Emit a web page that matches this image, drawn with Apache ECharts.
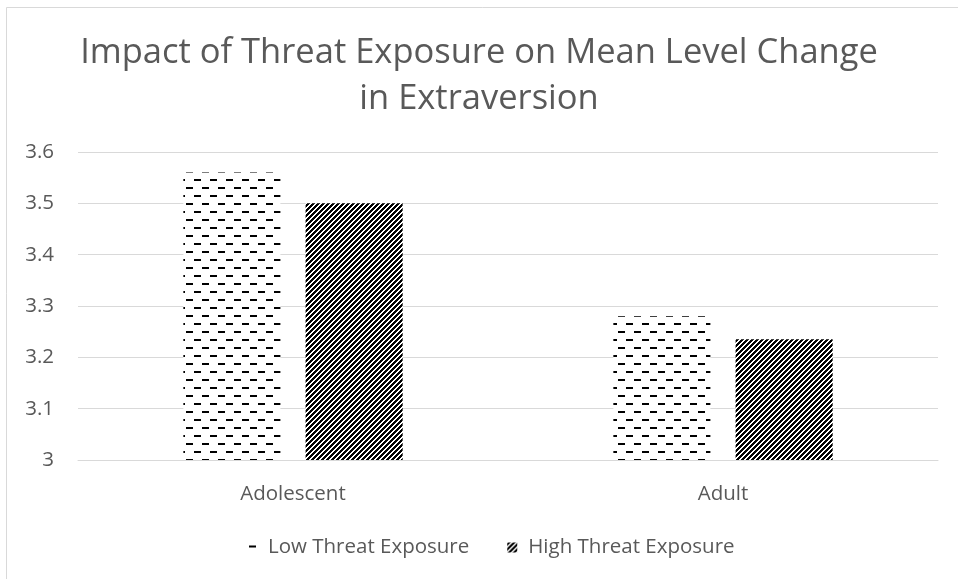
<!DOCTYPE html>
<html>
<head>
<meta charset="utf-8">
<script src="https://cdn.jsdelivr.net/npm/echarts@6/dist/echarts.min.js"></script>
<style>
  html, body { margin: 0; padding: 0; background: #fff; }
  #chart { width: 958px; height: 579px; }
</style>
</head>
<body>
<div id="chart"></div>
<script>
// Chart data
const categories = ['Adolescent', 'Adult'];
const seriesNames = ['Low Threat Exposure', 'High Threat Exposure'];
const lowThreat = [3.56, 3.28];
const highThreat = [3.50, 3.235];
const yTicks = [3, 3.1, 3.2, 3.3, 3.4, 3.5, 3.6];
const titleLines = ['Impact of Threat Exposure on Mean Level Change', 'in Extraversion'];

// Dashed horizontal fill: staggered short dashes
function dashTile() {
  const c = document.createElement('canvas');
  c.width = 16; c.height = 16;
  const g = c.getContext('2d');
  g.fillStyle = '#fff';
  g.fillRect(0, 0, 16, 16);
  g.fillStyle = '#000';
  g.fillRect(2, 3, 7, 2);
  g.fillRect(10, 11, 7, 2);
  g.fillRect(-6, 11, 7, 2);
  return c;
}

// Wide upward diagonal fill
function diagTile() {
  const n = 5;
  const c = document.createElement('canvas');
  c.width = n; c.height = n;
  const g = c.getContext('2d');
  g.fillStyle = '#fff';
  g.fillRect(0, 0, n, n);
  g.fillStyle = '#000';
  for (let y = 0; y < n; y++) {
    for (let x = 0; x < n; x++) {
      if ((x + y) % n < 3) g.fillRect(x, y, 1, 1);
    }
  }
  return c;
}

const lowFill = { image: dashTile(), repeat: 'repeat' };
const highFill = { image: diagTile(), repeat: 'repeat' };

const chart = echarts.init(document.getElementById('chart'));
const font = '"Open Sans", sans-serif';
const textColor = '#595959';
const labelSize = 20.5;

const titleStyle = { fontFamily: font, fontSize: 34.5, fontWeight: 'normal', color: textColor };

chart.setOption({
  animation: false,
  backgroundColor: '#fff',
  graphic: [{
    type: 'rect',
    shape: { x: 6.5, y: 7.5, width: 1000, height: 1000 },
    style: { fill: 'none', stroke: '#d9d9d9', lineWidth: 1 },
    silent: true
  }],
  title: [
    { text: titleLines[0], left: 'center', top: 31, textStyle: titleStyle },
    { text: titleLines[1], left: 'center', top: 77, textStyle: titleStyle }
  ],
  legend: {
    bottom: 16,
    left: 242,
    itemWidth: 10,
    itemHeight: 10,
    itemGap: 38,
    icon: 'rect',
    textStyle: { fontFamily: font, fontSize: labelSize, color: textColor, padding: [0, 0, 0, 6] },
    data: seriesNames
  },
  grid: { left: 78, right: 20, top: 152, bottom: 119 },
  xAxis: {
    type: 'category',
    data: categories,
    axisLine: { lineStyle: { color: '#d9d9d9', width: 1 } },
    axisTick: { show: false },
    axisLabel: { fontFamily: font, fontSize: labelSize, color: textColor, margin: 24 }
  },
  yAxis: {
    type: 'value',
    min: yTicks[0],
    max: yTicks[yTicks.length - 1],
    interval: 0.1,
    axisLine: { show: false },
    axisTick: { show: false },
    splitLine: { lineStyle: { color: '#d9d9d9', width: 1 } },
    axisLabel: {
      fontFamily: font, fontSize: labelSize, color: textColor, margin: 24,
      formatter: v => String(Math.round(v * 10) / 10)
    }
  },
  series: [
    {
      name: seriesNames[0],
      type: 'bar',
      data: lowThreat,
      barGap: '26%',
      barCategoryGap: '49%',
      itemStyle: { color: lowFill }
    },
    {
      name: seriesNames[1],
      type: 'bar',
      data: highThreat,
      itemStyle: { color: highFill }
    }
  ]
});
</script>
</body>
</html>
